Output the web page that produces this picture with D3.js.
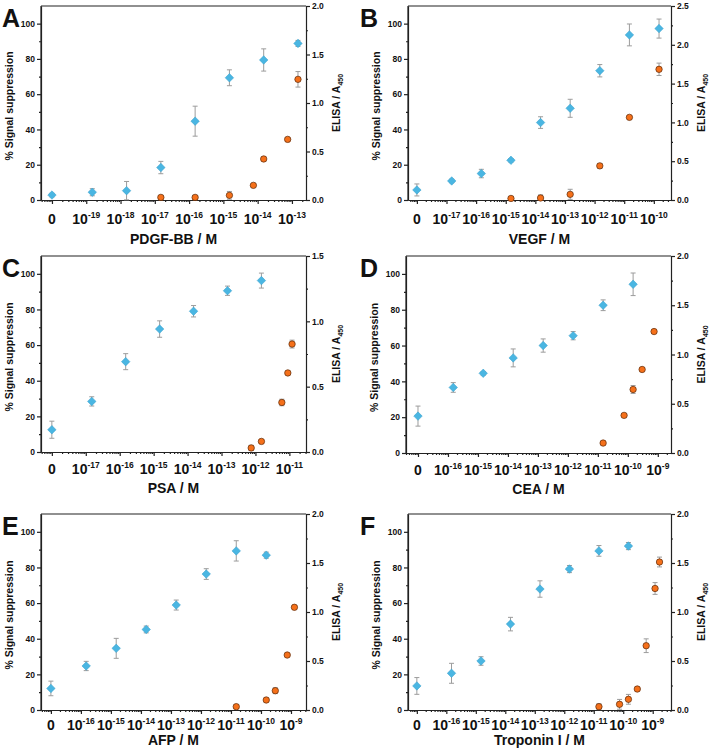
<!DOCTYPE html>
<html><head><meta charset="utf-8">
<script src="https://cdn.jsdelivr.net/npm/d3@7"></script>
<style>body{margin:0;background:#fff}</style>
</head><body>
<svg id="c" width="711" height="750"></svg>
<script>
// ---------- DATA ----------
const panelLetters = ["A", "B", "C", "D", "E", "F"];
const xTitles = ["PDGF-BB / M", "VEGF / M", "PSA / M", "CEA / M", "AFP / M", "Troponin I / M"];
const firstDecade = [-19, -17, -17, -16, -16, -16];
const lastDecade = [-13, -10, -11, -9, -9, -9];
const rightMax = [2.0, 2.5, 1.5, 2.0, 2.0, 2.0];
const leftTicks = [0, 20, 40, 60, 80, 100];

// Panel A (PDGF-BB)
const aConc = [0, 1.5e-19, 1.5e-18, 1.5e-17, 1.5e-16, 1.5e-15, 1.5e-14, 1.5e-13];
const aSupp = [2.8, 4.4, 5.3, 18.4, 44.7, 69.3, 79.4, 88.8];
const aSuppErr = [1, 2, 5.2, 3.5, 8.5, 4.5, 6.3, 1.7];
const aElisaConc = [1.5e-17, 1.5e-16, 1.5e-15, 7.5e-15, 1.5e-14, 7.5e-14, 1.5e-13];
const aElisa = [0.027, 0.027, 0.048, 0.151, 0.423, 0.625, 1.244];
const aElisaErr = [0.01, 0.02, 0.04, 0.015, 0.02, 0.015, 0.08];

// Panel B (VEGF)
const bConc = [0, 1.5e-17, 1.5e-16, 1.5e-15, 1.5e-14, 1.5e-13, 1.5e-12, 1.5e-11, 1.5e-10];
const bSupp = [5.7, 10.8, 15, 22.5, 43.9, 52, 73.3, 93.6, 97.2];
const bSuppErr = [3.4, 1, 2.4, 1, 3.3, 5.1, 3.5, 6.2, 5.4];
const bElisaConc = [1.5e-15, 1.5e-14, 1.5e-13, 1.5e-12, 1.5e-11, 1.5e-10];
const bElisa = [0.02, 0.026, 0.073, 0.44, 1.065, 1.684];
const bElisaErr = [0.01, 0.04, 0.065, 0.03, 0.02, 0.08];

// Panel C (PSA)
const cConc = [0, 1.5e-17, 1.5e-16, 1.5e-15, 1.5e-14, 1.5e-13, 1.5e-12];
const cSupp = [12.5, 28.4, 50.7, 69, 79, 90.5, 96.2];
const cSuppErr = [4.8, 2.6, 4.5, 4.6, 3.2, 2.6, 4.2];
const cElisaConc = [7.5e-13, 1.5e-12, 6e-12, 9e-12, 1.2e-11];
const cElisa = [0.031, 0.081, 0.379, 0.605, 0.826];
const cElisaErr = [0.02, 0.01, 0.025, 0.01, 0.03];

// Panel D (CEA)
const dConc = [0, 1.5e-16, 1.5e-15, 1.5e-14, 1.5e-13, 1.5e-12, 1.5e-11, 1.5e-10];
const dSupp = [20.6, 36.6, 44.5, 53.1, 60, 65.5, 82.5, 94.2];
const dSuppErr = [5.6, 2.7, 1, 5, 3.7, 2.3, 3, 6.3];
const dElisaConc = [1.5e-11, 7.5e-11, 1.5e-10, 3e-10, 7.5e-10];
const dElisa = [0.101, 0.382, 0.645, 0.848, 1.233];
const dElisaErr = [0.015, 0.015, 0.04, 0.01, 0.015];

// Panel E (AFP)
const eConc = [0, 1.5e-16, 1.5e-15, 1.5e-14, 1.5e-13, 1.5e-12, 1.5e-11, 1.5e-10];
const eSupp = [12.1, 24.7, 34.6, 45.2, 58.9, 76.3, 89.3, 86.9];
const eSuppErr = [4.1, 2.6, 5.6, 1.9, 2.8, 3, 5.7, 1.7];
const eElisaConc = [1.5e-11, 1.5e-10, 3e-10, 7.5e-10, 1.3e-9];
const eElisa = [0.034, 0.102, 0.197, 0.561, 1.048];
const eElisaErr = [0.02, 0.02, 0.03, 0.01, 0.01];

// Panel F (Troponin I)
const fConc = [0, 1.5e-16, 1.5e-15, 1.5e-14, 1.5e-13, 1.5e-12, 1.5e-11, 1.5e-10];
const fSupp = [13.5, 20.6, 27.5, 48.2, 67.9, 79.1, 89.3, 92];
const fSuppErr = [4.7, 5.6, 2.4, 3.8, 4.6, 2, 3, 2];
const fElisaConc = [1.5e-11, 7.5e-11, 1.5e-10, 3e-10, 6e-10, 1.2e-9, 1.7e-9];
const fElisa = [0.034, 0.058, 0.109, 0.214, 0.656, 1.24, 1.51];
const fElisaErr = [0.03, 0.05, 0.05, 0.02, 0.07, 0.06, 0.05];

// ---------- LAYOUT ----------
const geom = [
  {left: 41,  right: 306, top: 6,   bottom: 200, lo: -20.32, hi: -12.59, tickDy: 24, titleDy: 44},
  {left: 408, right: 671, top: 6,   bottom: 200, lo: -18.30, hi: -9.42,  tickDy: 24, titleDy: 44},
  {left: 41,  right: 306, top: 256, bottom: 452, lo: -18.32, hi: -10.51, tickDy: 22, titleDy: 41},
  {left: 406, right: 671, top: 256, bottom: 453, lo: -17.40, hi: -8.56,  tickDy: 22, titleDy: 41},
  {left: 41,  right: 306, top: 514, bottom: 710, lo: -17.33, hi: -8.50,  tickDy: 20, titleDy: 35},
  {left: 408, right: 671, top: 514, bottom: 710, lo: -17.30, hi: -8.38,  tickDy: 20, titleDy: 35}
];

const series = [
  [aConc, aSupp, aSuppErr, aElisaConc, aElisa, aElisaErr],
  [bConc, bSupp, bSuppErr, bElisaConc, bElisa, bElisaErr],
  [cConc, cSupp, cSuppErr, cElisaConc, cElisa, cElisaErr],
  [dConc, dSupp, dSuppErr, dElisaConc, dElisa, dElisaErr],
  [eConc, eSupp, eSuppErr, eElisaConc, eElisa, eElisaErr],
  [fConc, fSupp, fSuppErr, fElisaConc, fElisa, fElisaErr]
];

const FONT = "'Liberation Sans', Arial, Helvetica, sans-serif";
const AXIS = "#222";
const BLUE = "#4ab6e2";
const ORANGE = "#f5701a";
const ERR = "#9c9c9c";

const svg = d3.select("#c").style("font-family", FONT);

panelLetters.forEach((letter, i) => {
  const g = geom[i];
  const [conc, supp, suppErr, eConcArr, elisa, elisaErr] = series[i];
  const zeroVal = Math.pow(10, firstDecade[i] - 1);
  const x = d3.scaleLog().domain([Math.pow(10, g.lo), Math.pow(10, g.hi)]).range([g.left, g.right]);
  const xv = c => c === 0 ? x(zeroVal) : x(c);
  const yL = d3.scaleLinear().domain([0, 110]).range([g.bottom, g.top]);
  const yR = d3.scaleLinear().domain([0, rightMax[i]]).range([g.bottom, g.top]);
  const P = svg.append("g");

  // minor x ticks
  const minor = [];
  for (let d = Math.floor(g.lo); d <= Math.ceil(g.hi); d++) {
    for (let k = 2; k <= 9; k++) {
      const v = k * Math.pow(10, d);
      const lv = Math.log10(v);
      if (lv > g.lo && lv < g.hi) minor.push(v);
    }
  }
  const majors = [zeroVal];
  for (let d = firstDecade[i]; d <= lastDecade[i]; d++) majors.push(Math.pow(10, d));

  const styleAxis = sel => {
    sel.selectAll("path,line").attr("stroke", AXIS).attr("stroke-width", 1.2);
    sel.selectAll("text").attr("font-family", FONT).attr("font-weight", "bold").attr("fill", "#111");
  };

  P.append("g").attr("transform", `translate(0,${g.bottom})`)
    .call(d3.axisBottom(x).tickValues(minor).tickSize(2).tickSizeOuter(0).tickFormat(""))
    .call(styleAxis);
  P.append("g").attr("transform", `translate(0,${g.bottom})`)
    .call(d3.axisBottom(x).tickValues(majors).tickSize(4).tickSizeOuter(0).tickFormat(""))
    .call(styleAxis);

  // x tick labels
  majors.forEach((v, j) => {
    const t = P.append("text").attr("x", x(v)).attr("y", g.bottom + g.tickDy)
      .attr("text-anchor", "middle").attr("font-weight", "bold").attr("fill", "#111");
    if (j === 0) {
      t.attr("font-size", 14).text("0");
    } else {
      const e = Math.round(Math.log10(v));
      t.append("tspan").attr("font-size", 14).text("10");
      t.append("tspan").attr("font-size", 8.5).attr("dy", -6).text(String(e));
    }
  });

  // left axis
  P.append("g").attr("transform", `translate(${g.left},0)`)
    .call(d3.axisLeft(yL).tickValues(leftTicks).tickSize(4).tickSizeOuter(0).tickPadding(2))
    .call(styleAxis)
    .call(s => s.selectAll("text").attr("font-size", 8.5));
  P.append("g").attr("transform", `translate(${g.left},0)`)
    .call(d3.axisLeft(yL).tickValues([10, 30, 50, 70, 90]).tickSize(2).tickSizeOuter(0).tickFormat(""))
    .call(styleAxis)
    .call(s => s.select("path").remove());
  P.append("line").attr("x1", g.left).attr("x2", g.left).attr("y1", yL(110)).attr("y2", yL(0))
    .attr("stroke", AXIS).attr("stroke-width", 1.2);

  // right axis
  const rMaj = d3.range(0, rightMax[i] + 1e-9, 0.5);
  const rMin = d3.range(0.25, rightMax[i], 0.5);
  P.append("g").attr("transform", `translate(${g.right},0)`)
    .call(d3.axisRight(yR).tickValues(rMaj).tickSize(4).tickSizeOuter(0).tickPadding(2).tickFormat(d3.format(".1f")))
    .call(styleAxis)
    .call(s => s.selectAll("text").attr("font-size", 8.5));
  P.append("g").attr("transform", `translate(${g.right},0)`)
    .call(d3.axisRight(yR).tickValues(rMin).tickSize(2).tickSizeOuter(0).tickFormat(""))
    .call(styleAxis)
    .call(s => s.select("path").remove());

  // top frame
  P.append("line").attr("x1", g.left).attr("x2", g.right).attr("y1", g.top).attr("y2", g.top)
    .attr("stroke", AXIS).attr("stroke-width", 1.2);

  // titles
  P.append("text").attr("x", (g.left + g.right) / 2).attr("y", g.bottom + g.titleDy)
    .attr("text-anchor", "middle").attr("font-size", 14).attr("font-weight", "bold").attr("fill", "#111")
    .text(xTitles[i]);
  P.append("text").attr("transform", `translate(${g.left - 28},${(g.top + g.bottom) / 2 + 3}) rotate(-90)`)
    .attr("text-anchor", "middle").attr("font-size", 10.5).attr("font-weight", "bold").attr("fill", "#111")
    .text("% Signal suppression");
  const rt = P.append("text").attr("transform", `translate(${g.right + 34},${(g.top + g.bottom) / 2}) rotate(-90)`)
    .attr("text-anchor", "middle").attr("font-size", 10.5).attr("font-weight", "bold").attr("fill", "#111");
  rt.append("tspan").text("ELISA / A");
  rt.append("tspan").attr("font-size", 7).attr("dy", 3).text("450");

  // panel letter
  P.append("text").attr("x", i % 2 === 0 ? 2 : 360).attr("y", g.top + 21)
    .attr("font-size", 25).attr("font-weight", "bold").attr("fill", "#111").text(letter);

  // series
  const blue = conc.map((c, j) => ({c, v: supp[j], e: suppErr[j]}));
  const orange = eConcArr.map((c, j) => ({c, v: elisa[j], e: elisaErr[j]}));

  const drawErr = (data, ys) => {
    const eg = P.append("g").attr("stroke", ERR).attr("stroke-width", 1);
    data.forEach(d => {
      const cx = xv(d.c), y1 = ys(d.v + d.e), y2 = ys(Math.max(0, d.v - d.e));
      eg.append("line").attr("x1", cx).attr("x2", cx).attr("y1", y1).attr("y2", y2);
      eg.append("line").attr("x1", cx - 2.5).attr("x2", cx + 2.5).attr("y1", y1).attr("y2", y1);
      eg.append("line").attr("x1", cx - 2.5).attr("x2", cx + 2.5).attr("y1", y2).attr("y2", y2);
    });
  };
  drawErr(blue, yL);
  drawErr(orange, yR);

  const diamond = d3.symbol().type(d3.symbolSquare).size(36);
  P.selectAll(".bm").data(blue).enter().append("path")
    .attr("d", diamond)
    .attr("transform", d => `translate(${xv(d.c)},${yL(d.v)}) rotate(45)`)
    .attr("fill", BLUE).attr("stroke", "#3a9fcc").attr("stroke-width", 0.5);
  P.selectAll(".om").data(orange).enter().append("circle")
    .attr("cx", d => xv(d.c)).attr("cy", d => yR(d.v)).attr("r", 3.2)
    .attr("fill", ORANGE).attr("stroke", "#5a2a0a").attr("stroke-width", 0.7);
});
</script>
</body></html>
